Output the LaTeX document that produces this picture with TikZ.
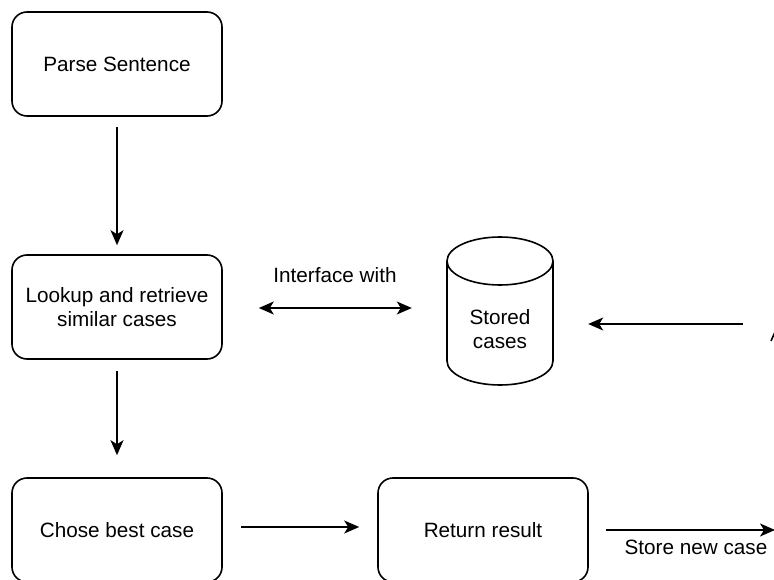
\documentclass[tikz,border=0pt]{standalone}
\usepackage{fontspec}
\setmainfont{Liberation Sans}
\usetikzlibrary{arrows.meta}
\begin{document}
\begin{tikzpicture}[x=1pt,y=-1pt,
  txt/.style={font=\fontsize{20.7}{24.2}\selectfont, align=center},
  box/.style={txt, draw, rounded corners=15pt, minimum width=210pt, minimum height=104pt, inner sep=0pt, line width=1.6pt},
  lbl/.style={txt, inner sep=0pt},
  tipA/.tip={Stealth[length=15pt,width=13pt,inset=4pt]},
  arr/.style={line width=1.6pt, -tipA},
  darr/.style={line width=1.6pt, tipA-tipA},
  shp/.style={line width=1.6pt}]
\useasboundingbox (0,0) rectangle (774,580);
\clip (0,0) rectangle (774,580);

\node[box] (parse) at (117,64) {Parse Sentence};
\node[box] (lookup) at (117,307) {Lookup and retrieve\\similar cases};
\node[box] (chose) at (117,530) {Chose best case};
\node[box] (ret) at (483,530) {Return result};

% stored cases cylinder
\node[minimum width=106pt, minimum height=148pt, inner sep=0pt] (cyl) at (500,311) {};
\draw[shp] (500,261) ellipse [x radius=53, y radius=24];
\draw[shp] (447,261) -- (447,361)
  .. controls (447,374.25) and (470.7,385) .. (500,385)
  .. controls (529.3,385) and (553,374.25) .. (553,361) -- (553,261);
\node[lbl] (db) at (500,329) {Stored\\cases};

% connectors
\draw[arr, shorten <=10pt, shorten >=9pt] (parse) -- (lookup);
\draw[arr, shorten <=11pt, shorten >=22pt] (lookup) -- (chose);
\draw[darr, shorten <=36pt, shorten >=35pt] ([yshift=-1pt]lookup.east) -- ([yshift=-1pt]lookup.east -| cyl.west);
\node[lbl] (iface) at (335,275) {Interface with};

\coordinate (src) at (743,324);
\draw[arr, shorten >=35pt] (src) -- (src -| cyl.east);

\draw[arr, shorten <=18pt, shorten >=18pt] ([yshift=3pt]chose.east) -- ([yshift=3pt]ret.west);

\coordinate (sink) at (775,530);
\draw[arr, shorten <=17pt] (ret.east) -- (sink);
\node[lbl] (store) at (696,547) {Store new case};

% fragment at right edge
\draw[shp] (771,341) -- (775,332);
\end{tikzpicture}
\end{document}
